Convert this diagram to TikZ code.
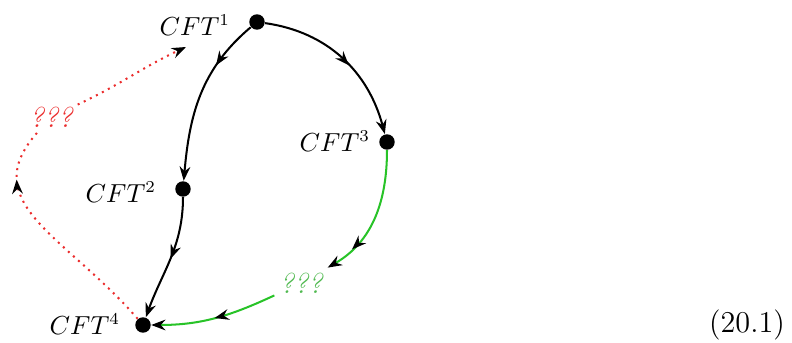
\documentclass[tikz,border=0pt]{standalone}
\usepackage{tikz}
\usetikzlibrary{arrows.meta,decorations.markings}
\definecolor{flowgreen}{RGB}{40,195,40}
\definecolor{qgreen}{RGB}{80,185,80}
\definecolor{flowred}{RGB}{235,45,45}
\begin{document}
\begin{tikzpicture}[x=0.42pt,y=0.42pt,
  pt/.style={circle,fill=black,inner sep=0pt,minimum size=6.5pt},
  lab/.style={anchor=east,inner sep=1pt,font=\fontsize{10.5}{12}\selectfont},
  qq/.style={font=\fontsize{12}{14}\selectfont\itshape,inner sep=2pt},
  tip/.style={-{Stealth[length=6pt,width=4.5pt,inset=2pt,color=black]}},
  midtip/.style={postaction={decorate},decoration={markings,mark=at position #1 with {\arrow[black]{Stealth[length=6pt,width=4.5pt,inset=2pt]}}}},
  flow/.style={line width=.85pt}]
\useasboundingbox (0,0) rectangle (792,343);
\node[pt] (c1) at (257,321) {};
\node[pt] (c2) at (183,154) {};
\node[pt] (c3) at (387,201) {};
\node[pt] (c4) at (143,18) {};
\node[lab] (l1) at (233,318) {$CFT^{1}$};
\node[lab] (l2) at (159,151) {$CFT^{2}$};
\node[lab] (l3) at (373,202) {$CFT^{3}$};
\node[lab] (l4) at (123,19) {$CFT^{4}$};
\node[qq,text=flowred] (qred) at (51,226) {???};
\node[qq,text=qgreen] (qgr) at (301,60) {???};
\node[font=\fontsize{12.7}{15}\selectfont] (eqno) at (747,18) {(20.1)};
\coordinate (r1) at (186,296);
\draw[flow,tip,midtip=0.3] (c1) to[out=-140,in=85] (c2);
\draw[flow,tip,midtip=0.55] (c1) to[out=-8,in=105] (c3);
\draw[flow,tip,midtip=0.5] (c2) to[out=-90,in=70] (c4);
\draw[flow,flowgreen,tip,midtip=0.78] (c3) to[out=-90,in=30] (qgr);
\draw[flow,flowgreen,tip,midtip=0.5] (qgr) to[out=205,in=0] (c4);
\draw[flow,flowred,dotted,midtip=0.78] (c4) .. controls (66,107) and (-25,140) .. (qred);
\draw[flow,flowred,dotted,tip] (qred) to[out=25,in=-155] (r1);
\end{tikzpicture}
\end{document}
